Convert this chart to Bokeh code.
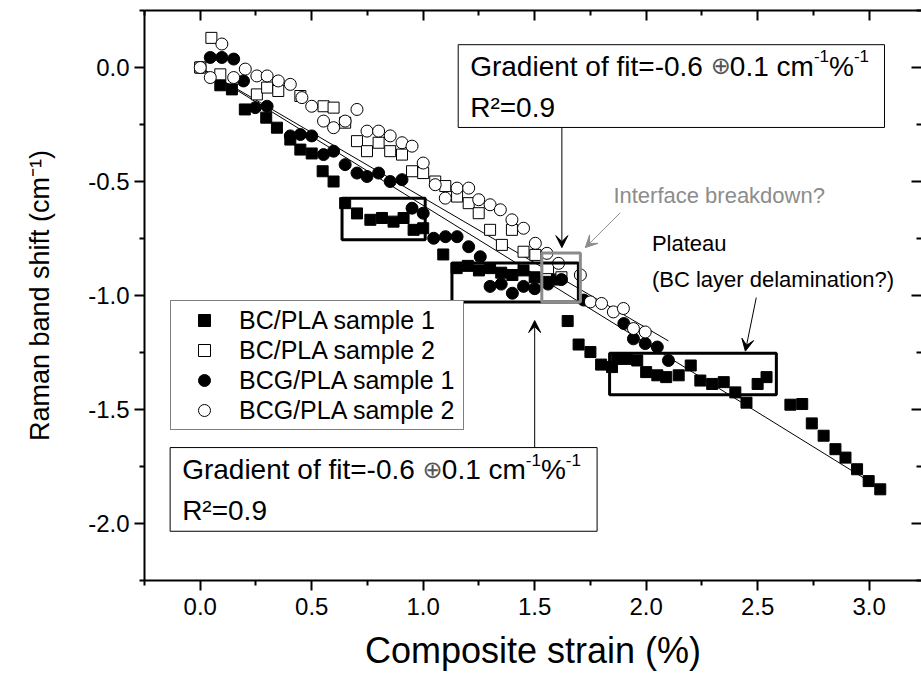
from bokeh.plotting import figure
from bokeh.models import (LinearAxis, FixedTicker, Range1d, Legend, LegendItem,
                          Arrow, VeeHead, CustomJSTickFormatter)
from bokeh.core.properties import value
from bokeh.embed import file_html
from bokeh.resources import INLINE

FONT = "Liberation Sans"

# BC/PLA sample 1 (filled squares)
bc1_x = [0.0, 0.09, 0.142, 0.20, 0.296, 0.344, 0.404, 0.449, 0.50, 0.549, 0.598,
         0.65, 0.703, 0.763, 0.815, 0.867, 0.912, 0.957, 1.0, 1.09,
         1.15, 1.20, 1.25, 1.30, 1.35, 1.40, 1.45, 1.50, 1.55, 1.60,
         1.648, 1.697, 1.75, 1.798, 1.847, 1.87, 1.914, 1.96, 2.0, 2.05, 2.09,
         2.146, 2.2, 2.243, 2.296, 2.348, 2.4, 2.45, 2.5, 2.54, 2.647, 2.7,
         2.743, 2.796, 2.849, 2.894, 2.946, 2.998, 3.05]
bc1_y = [0.0, -0.078, -0.096, -0.184, -0.22, -0.264, -0.316, -0.36, -0.377, -0.455, -0.5,
         -0.595, -0.64, -0.668, -0.66, -0.676, -0.66, -0.712, -0.705, -0.82,
         -0.88, -0.87, -0.89, -0.88, -0.90, -0.91, -0.89, -0.92, -0.94, -0.93,
         -1.112, -1.215, -1.248, -1.303, -1.314, -1.278, -1.278, -1.285, -1.336, -1.35, -1.358,
         -1.35, -1.307, -1.373, -1.388, -1.38, -1.425, -1.47, -1.388, -1.358, -1.479, -1.476,
         -1.561, -1.615, -1.674, -1.711, -1.762, -1.814, -1.85]

# BC/PLA sample 2 (open squares)
bc2_x = [0.0, 0.05, 0.09, 0.254, 0.30, 0.35, 0.449, 0.553, 0.598, 0.65, 0.703, 0.748,
         0.80, 0.852, 0.905, 0.95, 1.0, 1.054, 1.099, 1.152, 1.204, 1.249, 1.30,
         1.353, 1.398, 1.45, 1.503, 1.56, 1.62]
bc2_y = [0.0, 0.13, -0.03, -0.118, -0.088, -0.103, -0.125, -0.17, -0.176, -0.242, -0.323, -0.367,
         -0.33, -0.367, -0.382, -0.455, -0.463, -0.50, -0.52, -0.566, -0.595, -0.639, -0.712,
         -0.778, -0.712, -0.808, -0.822, -0.88, -0.92]

# BCG/PLA sample 1 (filled circles)
bcg1_x = [0.045, 0.097, 0.15, 0.194, 0.247, 0.30, 0.404, 0.449, 0.50, 0.553, 0.598,
          0.65, 0.703, 0.748, 0.80, 0.852, 0.905, 0.95, 1.0, 1.047, 1.10, 1.152,
          1.204, 1.256, 1.30, 1.35, 1.40, 1.45, 1.50, 1.56, 1.62, 1.72, 1.90,
          1.943, 1.996, 2.05, 2.10]
bcg1_y = [0.044, 0.044, 0.037, -0.059, -0.176, -0.17, -0.30, -0.294, -0.30, -0.382, -0.367,
          -0.426, -0.463, -0.478, -0.463, -0.50, -0.492, -0.617, -0.639, -0.749, -0.742, -0.742,
          -0.786, -0.83, -0.96, -0.95, -0.99, -0.96, -0.97, -0.95, -0.93, -1.02, -1.123,
          -1.19, -1.211, -1.226, -1.285]

# BCG/PLA sample 2 (open circles)
bcg2_x = [0.0, 0.045, 0.097, 0.15, 0.202, 0.254, 0.30, 0.35, 0.404, 0.456, 0.50,
          0.553, 0.598, 0.65, 0.703, 0.748, 0.80, 0.852, 0.905, 0.95, 1.0, 1.054,
          1.099, 1.152, 1.204, 1.249, 1.30, 1.346, 1.398, 1.45, 1.503, 1.555, 1.607,
          1.705, 1.75, 1.80, 1.853, 1.898, 1.943, 1.996]
bcg2_y = [0.0, -0.044, 0.103, -0.044, -0.007, -0.037, -0.037, -0.059, -0.074, -0.132, -0.17,
          -0.235, -0.264, -0.235, -0.184, -0.279, -0.279, -0.30, -0.33, -0.345, -0.419, -0.514,
          -0.573, -0.529, -0.529, -0.58, -0.602, -0.624, -0.668, -0.705, -0.771, -0.815, -0.859,
          -0.91, -1.028, -1.035, -1.072, -1.057, -1.145, -1.16]

series_labels = ["BC/PLA sample 1", "BC/PLA sample 2", "BCG/PLA sample 1", "BCG/PLA sample 2"]

# linear fits: (x start, x end, intercept, slope)
fit_x0 = [0.0, 0.0]
fit_x1 = [2.98, 2.10]
fit_b = [0.0, 0.0]
fit_m = [-0.605, -0.571]

# plateau boxes (left, right, top, bottom)
plat_l = [0.636, 1.129, 1.836]
plat_r = [1.009, 1.696, 2.584]
plat_t = [-0.573, -0.858, -1.253]
plat_b = [-0.756, -1.028, -1.435]

x_ticks = [0.0, 0.5, 1.0, 1.5, 2.0, 2.5, 3.0]
y_ticks = [0.0, -0.5, -1.0, -1.5, -2.0]
x_minor = [-0.25, 0.25, 0.75, 1.25, 1.75, 2.25, 2.75, 3.25]
y_minor = [0.25, -0.25, -0.75, -1.25, -1.75, -2.25]

p = figure(width=921, height=681, output_backend="svg", toolbar_location=None,
           x_range=Range1d(-0.25, 3.235), y_range=Range1d(-2.25, 0.25),
           min_border_left=144, min_border_right=0, min_border_top=10,
           min_border_bottom=101)
p.grid.visible = False
p.outline_line_color = None
p.background_fill_color = "white"
p.border_fill_color = "white"

def style_axis(ax, ticks, minor, labels=True):
    ax.ticker = FixedTicker(ticks=ticks, minor_ticks=minor)
    ax.axis_line_width = 2
    ax.major_tick_line_width = 2
    ax.minor_tick_line_width = 2
    ax.axis_line_color = "black"
    ax.major_tick_line_color = "black"
    ax.minor_tick_line_color = "black"
    if labels:
        ax.major_tick_out = 10
        ax.major_tick_in = 0
        ax.minor_tick_out = 5
        ax.minor_tick_in = 0
        ax.major_label_text_font = FONT
        ax.major_label_text_font_size = "24px"
        ax.major_label_text_color = "black"
        ax.axis_label_text_font = FONT
        ax.axis_label_text_font_style = "normal"
        ax.axis_label_text_color = "black"
        ax.formatter = CustomJSTickFormatter(code="return tick.toFixed(1);")
    else:
        # tick marks only, pointing into the frame
        ax.major_tick_out = 0
        ax.major_tick_in = 10
        ax.minor_tick_out = 0
        ax.minor_tick_in = 5
        ax.formatter = CustomJSTickFormatter(code="return '';")
        ax.major_label_text_font_size = "1px"
        ax.major_label_standoff = 0

style_axis(p.xaxis[0], x_ticks, x_minor)
style_axis(p.yaxis[0], y_ticks, y_minor)
p.xaxis[0].axis_label = "Composite strain (%)"
p.xaxis[0].axis_label_text_font_size = "36px"
p.xaxis[0].major_label_standoff = 7
p.xaxis[0].axis_label_standoff = 12
p.yaxis[0].axis_label = "Raman band shift (cm⁻¹)"
p.yaxis[0].axis_label_text_font_size = "27px"
p.yaxis[0].major_label_standoff = 5
p.yaxis[0].axis_label_standoff = 30

top_ax = LinearAxis()
style_axis(top_ax, x_ticks, x_minor, labels=False)
p.add_layout(top_ax, "above")
right_ax = LinearAxis()
style_axis(right_ax, y_ticks, y_minor, labels=False)
right_ax.axis_line_color = None
p.add_layout(right_ax, "right")

# fit lines
for x0, x1, b, m in zip(fit_x0, fit_x1, fit_b, fit_m):
    p.line([x0, x1], [b + m * x0, b + m * x1], line_color="black", line_width=1)

# data
r_bc1 = p.scatter(bc1_x, bc1_y, marker="square", size=11, fill_color="black", line_color="black")
r_bc2 = p.scatter(bc2_x, bc2_y, marker="square", size=11, fill_color="white", line_color="black", line_width=1)
r_bcg1 = p.scatter(bcg1_x, bcg1_y, marker="circle", size=12, fill_color="black", line_color="black")
r_bcg2 = p.scatter(bcg2_x, bcg2_y, marker="circle", size=12, fill_color="white", line_color="black", line_width=1)

# plateau boxes
p.quad(left=plat_l, right=plat_r, top=plat_t, bottom=plat_b, fill_color=None,
       line_color="black", line_width=3)
# interface breakdown box
p.quad(left=[1.532], right=[1.705], top=[-0.814], bottom=[-1.028], fill_color=None,
       line_color="#8c8c8c", line_width=3)

# gradient annotation boxes
box_l = [1.157, -0.135]
box_r = [3.069, 1.78]
box_t = [0.10, -1.667]
box_b = [-0.263, -2.034]
line1_y = [0.006, -1.765]
line2_y = [-0.175, -1.941]
text_pad = [12, 12]
p.quad(left=box_l, right=box_r, top=box_t, bottom=box_b,
       fill_color="white", line_color="black", line_width=1)

# Arial / Liberation Sans advance widths (em) for laying out the pieces of the fit label
ADV = {'G': .778, 'r': .333, 'a': .556, 'd': .556, 'i': .222, 'e': .556, 'n': .556,
       't': .278, ' ': .278, 'o': .556, 'f': .278, '=': .584, '-': .333, '0': .556,
       '.': .278, '6': .556, '1': .556, 'c': .5, 'm': .833, '%': .889}

def adv(s, size):
    return sum(ADV[ch] for ch in s) * size

MAIN, SUP, SYM = 28, 17, 24
# (text, size, font, raise, colour, advance)
pieces = [("Gradient of fit=-0.6 ", MAIN, FONT, 0, "black", None),
          ("⊕", SYM, "DejaVu Sans", 0, "#555555", 0.80 * SYM),
          ("0.1 cm", MAIN, FONT, 0, "black", None),
          ("-1", SUP, FONT, -10, "black", None),
          ("%", MAIN, FONT, 0, "black", None),
          ("-1", SUP, FONT, -10, "black", None)]

for bl, y1, y2, pad in zip(box_l, line1_y, line2_y, text_pad):
    cur = pad
    for txt, size, font, rise, col, w in pieces:
        p.text(x=[bl], y=[y1], text=[txt.rstrip()], x_offset=cur, y_offset=rise,
               text_font=value(font), text_font_size=f"{size}px",
               text_baseline="middle", text_color=col)
        cur += w if w is not None else adv(txt, size)
    p.text(x=[bl], y=[y2], text=["R²=0.9"], x_offset=pad, text_font=value(FONT),
           text_font_size=f"{MAIN}px", text_baseline="middle", text_color="black")

# notes
p.text(x=[1.853], y=[-0.56], text=["Interface breakdown?"], text_font=value(FONT),
       text_font_size="22px", text_baseline="middle", text_color="#8c8c8c")
p.text(x=[2.026, 2.026], y=[-0.77, -0.93], text=["Plateau", "(BC layer delamination?)"],
       text_font=value(FONT), text_font_size="22px", text_baseline="middle", text_color="black")

# arrows
p.add_layout(Arrow(end=VeeHead(size=12, fill_color="black", line_color="black", line_width=1),
                   x_start=1.622, y_start=-0.263, x_end=1.622, y_end=-0.79,
                   line_color="black", line_width=1))
p.add_layout(Arrow(end=VeeHead(size=12, fill_color="black", line_color="black", line_width=1),
                   x_start=1.5, y_start=-1.667, x_end=1.5, y_end=-1.11,
                   line_color="black", line_width=1))
p.add_layout(Arrow(end=VeeHead(size=12, fill_color="#8c8c8c", line_color="#8c8c8c", line_width=1),
                   x_start=1.884, y_start=-0.637, x_end=1.727, y_end=-0.79,
                   line_color="#8c8c8c", line_width=1))
p.add_layout(Arrow(end=VeeHead(size=12, fill_color="black", line_color="black", line_width=1),
                   x_start=2.494, y_start=-1.009, x_end=2.445, y_end=-1.244,
                   line_color="black", line_width=1))

legend = Legend(items=[LegendItem(label=lab, renderers=[r]) for lab, r in
                       zip(series_labels, [r_bc1, r_bc2, r_bcg1, r_bcg2])],
                location=(26, 150))
legend.label_text_font = FONT
legend.label_text_font_size = "25px"
legend.label_text_color = "black"
legend.label_height = 30
legend.glyph_height = 30
legend.glyph_width = 58
legend.label_standoff = 6
legend.label_width = 220
legend.spacing = 0
legend.padding = 4
legend.margin = 0
legend.border_line_color = "black"
legend.border_line_width = 1
legend.background_fill_color = "white"
legend.background_fill_alpha = 1
p.add_layout(legend, "center")

open("out.html", "w").write(file_html(p, INLINE))
